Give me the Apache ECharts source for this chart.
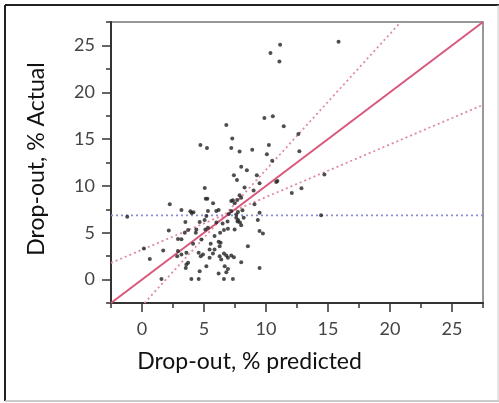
<!DOCTYPE html>
<html><head><meta charset="utf-8">
<script src="https://cdn.jsdelivr.net/npm/echarts@6/dist/echarts.min.js"></script>
<style>html,body{margin:0;padding:0;background:#fff}#c{width:499px;height:403px}</style>
</head><body><div id="c"></div>
<script>
// Axis tick labels
const majorTicks = [0, 5, 10, 15, 20, 25];
const minorTicks = [-2.5, 2.5, 7.5, 12.5, 17.5, 22.5, 27.5];
const xTitle = 'Drop-out, % predicted';
const yTitle = 'Drop-out, % Actual';

// Scatter points [predicted, actual]
const points = [
 [15.85,25.4],[11.14,25.07],[10.36,24.18],[11.08,23.29],
 [6.8,16.5],[9.87,17.25],[10.55,17.43],[11.43,16.36],
 [7.28,15.07],[4.71,14.36],[5.24,14.04],[7.2,14.04],[7.87,13.68],[8.89,13.86],[10.23,14.36],[10.07,13.39],[12.61,15.54],[12.69,13.71],[10.5,12.68],
 [8.0,12.04],[8.46,11.68],[7.41,11.14],[7.66,10.64],[9.26,11.14],[9.48,10.29],[10.82,10.43],[10.92,10.52],[14.71,11.21],[12.08,9.25],[12.86,9.75],
 [5.06,9.79],[8.27,9.82],[9.0,9.5],[7.87,9.0],[5.14,8.64],[7.33,8.46],
 [14.44,6.86],
 [2.24,8.04],[-1.19,6.71],[3.18,7.43],[3.9,7.3],[4.0,7.1],[4.15,7.2],[3.5,6.14],[2.16,5.25],[3.72,5.29],[2.9,4.33],[3.18,4.3],[0.15,3.32],[1.71,3.11],[0.63,2.21],[2.9,3.04],[2.84,2.5],[3.18,2.68],[3.58,2.86],[3.72,1.79],[3.53,1.25],[1.57,0.07],[3.98,0.07],
 [5.27,8.64],[5.73,8.14],[6.18,7.43],[5.99,7.32],[7.2,8.39],[7.47,8.14],[7.68,8.5],[8.0,8.75],[7.2,7.32],[7.74,7.21],[7.6,6.96],[5.32,7.32],[9.07,8.04],[9.48,7.14],[9.34,6.36],[9.48,5.18],[9.75,4.93],
 [7.6,6.6],[7.75,6.35],[7.9,6.1],[7.7,6.2],[8.0,5.79],[7.47,5.36],[6.93,5.43],[6.61,5.29],[5.19,6.79],[5.05,6.36],[4.65,6.14],[4.38,5.36],[5.32,5.54],[5.11,5.36],[5.85,4.64],
 [6.18,4.04],[6.34,3.93],[6.26,3.57],[5.85,3.21],[5.45,3.21],[4.79,4.29],[4.57,2.86],[4.74,2.5],[4.92,2.68],[5.45,2.32],[6.26,2.5],[6.39,2.14],[6.61,2.79],[6.8,2.57],[6.93,2.32],[7.2,2.57],[7.41,2.39],
 [8.54,3.57],[8.0,1.86],[9.48,1.25],[5.19,1.43],[4.65,0.89],[6.67,1.43],[6.93,1.14],[6.8,0.79],[6.18,0.64],[4.57,0.07],[6.61,0.07],[7.33,0.07],
 [4.34,5.0],[3.45,5.0],[4.12,3.82],[5.54,3.82],[5.72,2.79],[3.58,1.6],[6.0,6.1],[6.5,6.0],[6.9,6.2],[6.3,5.0],[7.0,7.0],[8.2,6.6],[8.1,7.4]
];

// Reference lines (endpoints)
const identityLine = [[-2.5,-2.5],[27.5,27.5]];
const upperBand = [[0.2,-2.5],[20.87,27.5]];
const lowerBand = [[-2.5,1.78],[27.5,18.65]];
const meanLine = [[-2.5,6.86],[27.5,6.86]];

const FONT = 'Lato';
const chart = echarts.init(document.getElementById('c'), null, {renderer:'canvas'});
const fmt = v => (Math.abs(v % 5) < 1e-6 ? String(v) : '');
function mainAxis(pos){
  return {
    type:'value', position:pos, min:-2.5, max:27.5, interval:2.5,
    splitLine:{show:false},
    axisLine:{show:true, onZero:false, lineStyle:{color:'#333', width:2}},
    axisTick:{show:true, inside:false, length:9, lineStyle:{color:'#333', width:1.5}, customValues: majorTicks},
    axisLabel:{show:true, customValues: majorTicks, formatter: fmt, color:'#444', fontSize:18, fontFamily:FONT, margin: pos==='left'?16:17}
  };
}
function minorAxis(pos){
  return {
    type:'value', position:pos, min:-2.5, max:27.5, interval:2.5,
    splitLine:{show:false},
    axisLine:{show:false, onZero:false},
    axisTick:{show:true, inside:false, length:5, lineStyle:{color:'#333', width:1.5}, customValues: minorTicks},
    axisLabel:{show:false}
  };
}
chart.setOption({
  animation:false,
  grid:{left:111, right:16, top:22, bottom:100, show:true, borderColor:'#777', borderWidth:1.5, containLabel:false},
  xAxis:[mainAxis('bottom'), minorAxis('bottom')],
  yAxis:[mainAxis('left'), minorAxis('left')],
  graphic:[
    {type:'line', shape:{x1:5,y1:5,x2:499,y2:5}, style:{stroke:'#222', lineWidth:2}},
    {type:'line', shape:{x1:5,y1:5,x2:5,y2:401}, style:{stroke:'#222', lineWidth:2}},
    {type:'line', shape:{x1:5,y1:401,x2:499,y2:401}, style:{stroke:'#bbb', lineWidth:1.5}},
    {type:'line', shape:{x1:498,y1:5,x2:498,y2:401}, style:{stroke:'#ccc', lineWidth:1}},
    {type:'text', left:'center', x:0, style:{text:xTitle, x:297, y:362, align:'center', verticalAlign:'middle', font:'23px '+FONT, fill:'#111'}, position:[0,0]},
    {type:'text', rotation:Math.PI/2, x:37, y:159, style:{text:yTitle, x:0, y:0, align:'center', verticalAlign:'middle', font:'23px '+FONT, fill:'#111'}}
  ],
  series:[
    {type:'line', data:meanLine, symbol:'none', silent:true, lineStyle:{color:'#8b8bdc', width:1.8, type:[2,3]}, z:1},
    {type:'line', data:upperBand, symbol:'none', silent:true, lineStyle:{color:'#e08aa2', width:1.8, type:[2,3]}, z:1},
    {type:'line', data:lowerBand, symbol:'none', silent:true, lineStyle:{color:'#e08aa2', width:1.8, type:[2,3]}, z:1},
    {type:'line', data:identityLine, symbol:'none', silent:true, lineStyle:{color:'#d9577a', width:2}, z:2},
    {type:'scatter', data:points, symbol:'circle', symbolSize:4, itemStyle:{color:'#222'}, z:3}
  ]
});
</script></body></html>
